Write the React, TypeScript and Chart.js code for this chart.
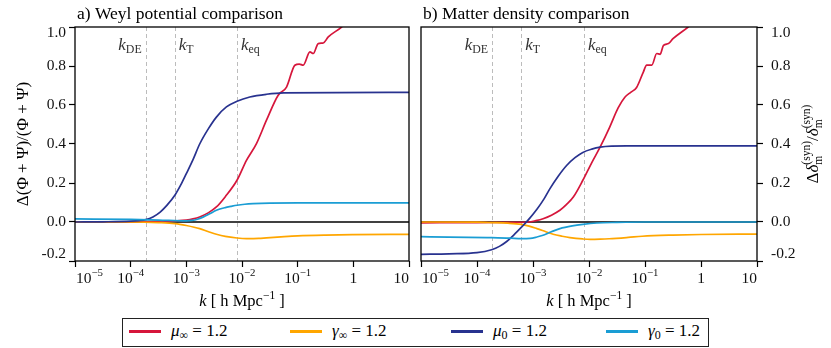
import React, { useEffect, useRef } from 'react';
import { Chart, registerables } from 'chart.js';

Chart.register(...registerables);

const FONT = '"Liberation Serif", "DejaVu Serif", serif';

// ---- axis ticks ----
const xTickExps = [-5, -4, -3, -2, -1, 0, 1];
const yTickVals = [-0.2, 0.0, 0.2, 0.4, 0.6, 0.8, 1.0];

// ---- characteristic scales (log10 k) ----
const markerNames = ['DE', 'T', 'eq'];
const markerLogK = [-3.73, -3.21, -2.09];

// ---- a) Weyl potential comparison ----
const weylMuInfLogK = [-5, -4, -3.5, -3.2, -3.0, -2.88, -2.76, -2.6, -2.46, -2.3, -2.09, -1.92, -1.74, -1.56, -1.35, -1.2, -1.05, -0.97, -0.9, -0.78, -0.72, -0.63, -0.54, -0.45, -0.21, 0, 0.5, 1];
const weylMuInf = [0, 0.001, 0.003, 0.006, 0.01, 0.016, 0.026, 0.048, 0.077, 0.13, 0.214, 0.316, 0.402, 0.522, 0.65, 0.692, 0.804, 0.81, 0.804, 0.872, 0.864, 0.915, 0.918, 0.949, 1.0, 1.06, 1.16, 1.26];

const weylGammaInfLogK = [-5, -4, -3.5, -3.2, -3.0, -2.76, -2.6, -2.46, -2.3, -2.09, -1.92, -1.7, -1.56, -1.3, -1.0, -0.5, 0, 1];
const weylGammaInf = [0, 0, -0.003, -0.008, -0.018, -0.034, -0.05, -0.063, -0.074, -0.082, -0.085, -0.084, -0.081, -0.076, -0.071, -0.067, -0.065, -0.063];

const weylMu0LogK = [-5, -4.5, -4, -3.85, -3.73, -3.6, -3.47, -3.35, -3.2, -3.1, -3.0, -2.88, -2.76, -2.6, -2.46, -2.28, -2.09, -1.86, -1.56, -1.25, 1];
const weylMu0 = [0, 0.001, 0.004, 0.007, 0.012, 0.026, 0.051, 0.085, 0.14, 0.19, 0.248, 0.32, 0.4, 0.48, 0.538, 0.59, 0.619, 0.641, 0.655, 0.662, 0.665];

const weylGamma0LogK = [-5, -4, -3.5, -3.0, -2.9, -2.8, -2.7, -2.58, -2.46, -2.3, -2.2, -2.09, -1.95, -1.8, -1.5, -1, 1];
const weylGamma0 = [0.016, 0.013, 0.01, 0.006, 0.008, 0.014, 0.025, 0.042, 0.06, 0.074, 0.08, 0.086, 0.091, 0.094, 0.097, 0.098, 0.098];

// ---- b) Matter density comparison ----
const matterMuInfLogK = [-5, -4, -3.5, -3.08, -2.95, -2.82, -2.67, -2.52, -2.4, -2.28, -2.11, -1.95, -1.8, -1.63, -1.48, -1.36, -1.25, -1.15, -1.03, -0.97, -0.88, -0.79, -0.73, -0.67, -0.58, -0.5, -0.23, 0, 0.5, 1];
const matterMuInf = [-0.004, -0.003, -0.002, 0, 0.007, 0.017, 0.035, 0.06, 0.09, 0.128, 0.214, 0.305, 0.385, 0.487, 0.585, 0.64, 0.666, 0.69, 0.769, 0.804, 0.804, 0.864, 0.86, 0.906, 0.915, 0.94, 1.0, 1.06, 1.15, 1.25];

const matterGammaInfLogK = [-5, -4, -3.74, -3.45, -3.21, -3.07, -2.93, -2.78, -2.64, -2.48, -2.34, -2.11, -1.98, -1.8, -1.64, -1.3, -1.05, -0.5, 0, 1];
const matterGammaInf = [0, -0.001, -0.003, -0.006, -0.012, -0.021, -0.034, -0.049, -0.063, -0.073, -0.08, -0.087, -0.089, -0.088, -0.086, -0.079, -0.073, -0.067, -0.064, -0.062];

const matterMu0LogK = [-5, -4.5, -4.0, -3.74, -3.6, -3.47, -3.34, -3.21, -3.08, -2.93, -2.8, -2.7, -2.55, -2.4, -2.25, -2.11, -1.95, -1.8, -1.6, -1.33, 1];
const matterMu0 = [-0.166, -0.163, -0.157, -0.142, -0.125, -0.1, -0.066, -0.028, 0.012, 0.065, 0.12, 0.17, 0.235, 0.29, 0.33, 0.357, 0.374, 0.384, 0.389, 0.39, 0.39];

const matterGamma0LogK = [-5, -4.5, -3.74, -3.4, -3.21, -3.05, -2.93, -2.82, -2.67, -2.52, -2.3, -2.11, -1.86, -1.5, -1, 1];
const matterGamma0 = [-0.075, -0.078, -0.08, -0.083, -0.085, -0.084, -0.077, -0.068, -0.05, -0.034, -0.02, -0.012, -0.005, -0.002, 0, 0];

// ---- series styling ----
const seriesColors = ['#d6163b', '#ffa600', '#28328f', '#1a9dd4'];
const seriesLegendSym = ['μ', 'γ', 'μ', 'γ'];
const seriesLegendSub = ['∞', '∞', '0', '0'];
const seriesLegendValue = ['1.2', '1.2', '1.2', '1.2'];

type Seg = { t: string; it?: boolean; s?: number; dy?: number; back?: boolean };

function fnt(size: number, it?: boolean) {
  return `${it ? 'italic ' : ''}${size}px ${FONT}`;
}

function drawSegs(ctx: CanvasRenderingContext2D, segs: Seg[], x: number, y: number, size: number, align: 'left' | 'center' | 'right') {
  const ws = segs.map((sg) => {
    ctx.font = fnt(size * (sg.s ?? 1), sg.it);
    return ctx.measureText(sg.t).width;
  });
  const starts: number[] = [];
  let cur = 0;
  let prevStart = 0;
  let prevW = 0;
  segs.forEach((sg, i) => {
    if (sg.back) {
      starts.push(prevStart);
      cur = prevStart + Math.max(prevW, ws[i]);
    } else {
      starts.push(cur);
      prevStart = cur;
      prevW = ws[i];
      cur += ws[i];
    }
  });
  const total = cur;
  const x0 = align === 'left' ? x : align === 'right' ? x - total : x - total / 2;
  ctx.textAlign = 'left';
  segs.forEach((sg, i) => {
    ctx.font = fnt(size * (sg.s ?? 1), sg.it);
    ctx.fillText(sg.t, x0 + starts[i], y + (sg.dy ?? 0) * size);
  });
}

const H = 316;

type Series = { logk: number[]; vals: number[] };

function Panel(props: {
  left: number;
  width: number;
  side: 'left' | 'right';
  title: string;
  series: Series[];
}) {
  const ref = useRef<HTMLCanvasElement>(null);
  useEffect(() => {
    const canvas = ref.current!;
    const isLeft = props.side === 'left';
    const orders = [4, 3, 2, 1];
    const datasets = props.series.map((s, i) => ({
      data: s.logk.map((e, j) => ({ x: Math.pow(10, e), y: s.vals[j] })),
      borderColor: seriesColors[i],
      backgroundColor: seriesColors[i],
      borderWidth: 1.7,
      pointRadius: 0,
      fill: false,
      cubicInterpolationMode: 'monotone' as const,
      order: orders[i],
    }));

    const deco = {
      id: 'deco',
      beforeDatasetsDraw(chart: any) {
        const { ctx, chartArea: a, scales } = chart;
        const x = scales.x;
        const y = scales.y;
        ctx.save();
        ctx.strokeStyle = '#bcbcbc';
        ctx.lineWidth = 1;
        ctx.setLineDash([4, 3]);
        markerLogK.forEach((e) => {
          const px = Math.round(x.getPixelForValue(Math.pow(10, e))) + 0.5;
          ctx.beginPath();
          ctx.moveTo(px, a.top);
          ctx.lineTo(px, a.bottom);
          ctx.stroke();
        });
        ctx.setLineDash([]);
        ctx.strokeStyle = '#000';
        ctx.lineWidth = 1.5;
        const py = y.getPixelForValue(0);
        ctx.beginPath();
        ctx.moveTo(a.left, py);
        ctx.lineTo(a.right, py);
        ctx.stroke();
        ctx.restore();
      },
      afterDraw(chart: any) {
        const { ctx, chartArea: a, scales } = chart;
        const x = scales.x;
        const y = scales.y;
        ctx.save();
        // frame
        ctx.strokeStyle = '#000';
        ctx.lineWidth = 1.3;
        ctx.strokeRect(a.left, a.top, a.right - a.left, a.bottom - a.top);

        ctx.fillStyle = '#000';
        ctx.textBaseline = 'alphabetic';
        // title
        drawSegs(ctx, [{ t: props.title }], a.left + 2, 18.5, 17.5, 'left');

        // marker labels
        ctx.fillStyle = '#333';
        markerNames.forEach((nm, i) => {
          const px = x.getPixelForValue(Math.pow(10, markerLogK[i]));
          const segs: Seg[] = [{ t: 'k', it: true }, { t: nm, s: 0.7, dy: 0.2 }];
          if (i === 0) drawSegs(ctx, segs, px - 4, 50, 17, 'right');
          else drawSegs(ctx, segs, px + 4, 50, 17, 'left');
        });

        // x tick labels
        ctx.fillStyle = '#111';
        xTickExps.forEach((e, i) => {
          const px = x.getPixelForValue(Math.pow(10, e));
          let segs: Seg[];
          if (e === 0) segs = [{ t: '1' }];
          else if (e === 1) segs = [{ t: '10' }];
          else segs = [{ t: '10' }, { t: '−' + String(-e), s: 0.7, dy: -0.42 }];
          const al = i === 0 ? 'left' : i === xTickExps.length - 1 ? 'right' : 'center';
          drawSegs(ctx, segs, i === 0 ? px + 1 : px, a.bottom + 22, 15.5, al);
        });

        // y tick labels
        ctx.textBaseline = 'middle';
        yTickVals.forEach((v, i) => {
          let py = y.getPixelForValue(v);
          if (i === 0) py -= 7;
          if (i === yTickVals.length - 1) py += 5.5;
          const label = v.toFixed(1);
          if (isLeft) drawSegs(ctx, [{ t: label }], a.left - 9, py, 15.5, 'right');
          else drawSegs(ctx, [{ t: label }], a.right + 14, py, 15.5, 'left');
        });
        ctx.textBaseline = 'alphabetic';

        // x axis title
        ctx.fillStyle = '#000';
        drawSegs(
          ctx,
          [{ t: 'k', it: true }, { t: ' [ h Mpc' }, { t: '−1', s: 0.7, dy: -0.42 }, { t: ' ]' }],
          (a.left + a.right) / 2,
          a.bottom + 45,
          16.5,
          'center'
        );

        // y axis title
        const cy = (a.top + a.bottom) / 2;
        ctx.save();
        if (isLeft) {
          ctx.translate(28, cy);
          ctx.rotate(-Math.PI / 2);
          drawSegs(ctx, [{ t: 'Δ(Φ + Ψ)/(Φ + Ψ)' }], 0, 0, 17, 'center');
        } else {
          ctx.translate(a.right + 61, cy);
          ctx.rotate(-Math.PI / 2);
          drawSegs(
            ctx,
            [
              { t: 'Δ' },
              { t: 'δ', it: true },
              { t: 'm', s: 0.68, dy: 0.25 },
              { t: '(syn)', s: 0.68, dy: -0.45, back: true },
              { t: '/' },
              { t: 'δ', it: true },
              { t: 'm', s: 0.68, dy: 0.25 },
              { t: '(syn)', s: 0.68, dy: -0.45, back: true },
            ],
            0,
            0,
            17,
            'center'
          );
        }
        ctx.restore();
        ctx.restore();
      },
    };

    const gridOpts = {
      display: true,
      drawOnChartArea: false,
      drawTicks: true,
      tickLength: 6,
      tickColor: '#000',
      tickWidth: 1.2,
    };

    const chart = new Chart(canvas, {
      type: 'line',
      data: { datasets },
      options: {
        animation: false,
        responsive: false,
        maintainAspectRatio: false,
        events: [],
        layout: {
          padding: isLeft ? { top: 27, left: 0, right: 6, bottom: 0 } : { top: 27, left: 6, right: 0, bottom: 0 },
        },
        plugins: { legend: { display: false }, tooltip: { enabled: false }, title: { display: false } },
        scales: {
          x: {
            type: 'logarithmic',
            min: 1e-5,
            max: 10,
            afterBuildTicks: (s: any) => {
              s.ticks = xTickExps.map((e) => ({ value: Math.pow(10, e) }));
            },
            ticks: { display: false },
            grid: gridOpts,
            border: { display: false },
            afterFit: (s: any) => {
              s.height = H - 261;
            },
          },
          y: {
            type: 'linear',
            position: props.side,
            min: -0.2,
            max: 1.0,
            afterBuildTicks: (s: any) => {
              s.ticks = yTickVals.map((v) => ({ value: v }));
            },
            ticks: { display: false },
            grid: gridOpts,
            border: { display: false },
            afterFit: (s: any) => {
              s.width = isLeft ? 75 : 74;
            },
          },
        },
      } as any,
      plugins: [deco],
    });
    return () => chart.destroy();
  }, []);
  return (
    <canvas
      ref={ref}
      width={props.width}
      height={H}
      style={{ position: 'absolute', left: props.left, top: 0, width: props.width, height: H }}
    />
  );
}

const legendLineX = [6, 167, 328, 483];
const legendTextX = [48, 209, 370, 525];

export default function App() {
  const weyl: Series[] = [
    { logk: weylMuInfLogK, vals: weylMuInf },
    { logk: weylGammaInfLogK, vals: weylGammaInf },
    { logk: weylMu0LogK, vals: weylMu0 },
    { logk: weylGamma0LogK, vals: weylGamma0 },
  ];
  const matter: Series[] = [
    { logk: matterMuInfLogK, vals: matterMuInf },
    { logk: matterGammaInfLogK, vals: matterGammaInf },
    { logk: matterMu0LogK, vals: matterMu0 },
    { logk: matterGamma0LogK, vals: matterGamma0 },
  ];
  return (
    <div style={{ position: 'absolute', left: 0, top: 0, width: 831, height: 348, background: '#fff', overflow: 'hidden' }}>
      <Panel left={0} width={415} side="left" title="a) Weyl potential comparison" series={weyl} />
      <Panel left={415} width={416} side="right" title="b) Matter density comparison" series={matter} />
      <div
        style={{
          position: 'absolute',
          left: 122,
          top: 318,
          width: 587,
          height: 29,
          boxSizing: 'border-box',
          border: '1.3px solid #222',
          fontFamily: FONT,
          fontSize: 17,
          color: '#000',
        }}
      >
        {seriesColors.map((c, i) => (
          <React.Fragment key={i}>
            <div
              style={{
                position: 'absolute',
                left: legendLineX[i],
                top: 11,
                width: 32,
                height: 3,
                background: c,
              }}
            />
            <div
              style={{
                position: 'absolute',
                left: legendTextX[i],
                top: 4,
                lineHeight: '16px',
                whiteSpace: 'nowrap',
              }}
            >
              <i>{seriesLegendSym[i]}</i>
              <span style={{ fontSize: 12, position: 'relative', top: 3 }}>{seriesLegendSub[i]}</span>
              {' = ' + seriesLegendValue[i]}
            </div>
          </React.Fragment>
        ))}
      </div>
    </div>
  );
}
